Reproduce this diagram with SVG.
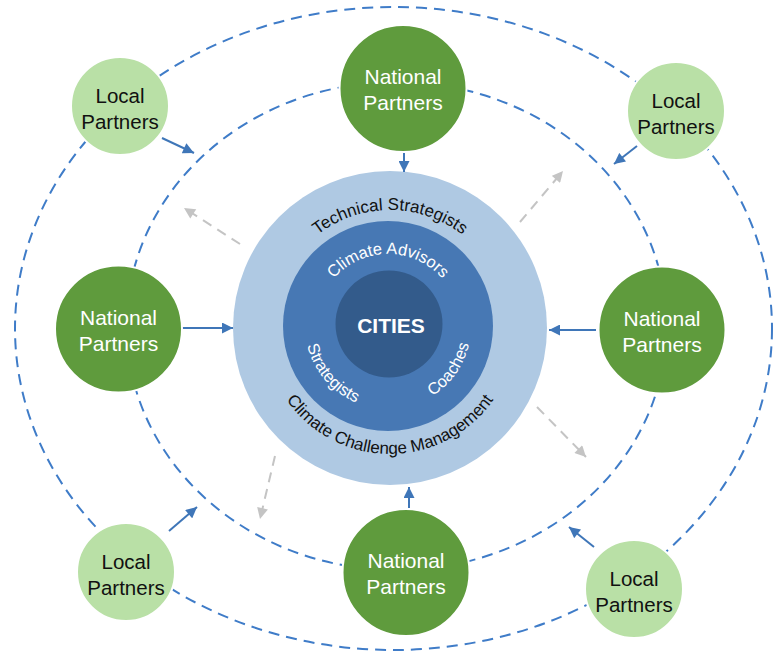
<svg xmlns="http://www.w3.org/2000/svg" width="775" height="657" viewBox="0 0 775 657">
<defs>
<style>
.orbit{fill:none;stroke:#3f7cc8;stroke-width:2;stroke-dasharray:11 7}
.solid{fill:none;stroke:#3f76b8;stroke-width:2}
.gray{fill:none;stroke:#c4c4c4;stroke-width:2;stroke-dasharray:10 7}
.nat{fill:#5f9b3d;stroke:#fff;stroke-width:2}
.loc{fill:#b9e0a6;stroke:#fff;stroke-width:2}
.nt{font-family:"Liberation Sans",Arial,sans-serif;font-size:21px;fill:#fff;text-anchor:middle}
.lt{font-family:"Liberation Sans",Arial,sans-serif;font-size:20.5px;fill:#111;text-anchor:middle}
.ring{font-family:"Liberation Sans",Arial,sans-serif;font-size:17px;fill:#111}
.wring{font-family:"Liberation Sans",Arial,sans-serif;font-size:16.5px;fill:#fff}
</style>
<marker id="ab" viewBox="0 0 10 10" refX="10" refY="5" markerWidth="12" markerHeight="11" markerUnits="userSpaceOnUse" orient="auto">
<path d="M0,0 L10,5 L0,10 z" fill="#3f76b8"/>
</marker>
<marker id="ag" viewBox="0 0 10 10" refX="10" refY="5" markerWidth="12" markerHeight="11" markerUnits="userSpaceOnUse" orient="auto">
<path d="M0,0 L10,5 L0,10 z" fill="#c4c4c4"/>
</marker>
<path id="pTop1" d="M272,328 A118,118 0 0 1 508,328"/>
<path id="pBot1" d="M264,328 A126,126 0 0 0 516,328"/>
<path id="pTop2" d="M316,326 A72,72 0 0 1 460,326"/>
<path id="pBot2" d="M305,326 A83,83 0 0 0 471,326"/>
</defs>

<g id="orbits">
<ellipse class="orbit" cx="393.5" cy="328.5" rx="378.5" ry="321.5"/>
<ellipse class="orbit" cx="396.5" cy="326" rx="270" ry="244"/>
</g>

<g id="core">
<circle cx="390" cy="328" r="157" fill="#afc9e3"/>
<circle cx="388" cy="326" r="105" fill="#4778b4"/>
<circle cx="389" cy="324" r="53.5" fill="#335b8b"/>
<text class="ring"><textPath href="#pTop1" startOffset="50%" text-anchor="middle">Technical Strategists</textPath></text>
<text class="ring"><textPath href="#pBot1" startOffset="50%" text-anchor="middle">Climate Challenge Management</textPath></text>
<text class="wring"><textPath href="#pTop2" startOffset="50%" text-anchor="middle">Climate Advisors</textPath></text>
<text class="wring"><textPath href="#pBot2" startOffset="22.5%" text-anchor="middle">Strategists</textPath></text>
<text class="wring"><textPath href="#pBot2" startOffset="80.5%" text-anchor="middle">Coaches</textPath></text>
<text x="391" y="333" font-family="'Liberation Sans',Arial,sans-serif" font-size="21" font-weight="bold" fill="#fff" text-anchor="middle">CITIES</text>
</g>

<g id="connectors">
<line class="solid" x1="404" y1="153" x2="404" y2="172" marker-end="url(#ab)"/>
<line class="solid" x1="182" y1="328" x2="233" y2="328" marker-end="url(#ab)"/>
<line class="solid" x1="596" y1="330" x2="549" y2="330" marker-end="url(#ab)"/>
<line class="solid" x1="409" y1="508" x2="409" y2="487" marker-end="url(#ab)"/>
<line class="solid" x1="162" y1="138" x2="194" y2="153" marker-end="url(#ab)"/>
<line class="solid" x1="637" y1="146" x2="614" y2="164" marker-end="url(#ab)"/>
<line class="solid" x1="169" y1="531" x2="197" y2="507" marker-end="url(#ab)"/>
<line class="solid" x1="594" y1="547" x2="569" y2="527" marker-end="url(#ab)"/>
<line class="gray" x1="240" y1="244" x2="184" y2="208" marker-end="url(#ag)"/>
<line class="gray" x1="520" y1="222" x2="563" y2="171" marker-end="url(#ag)"/>
<line class="gray" x1="537" y1="407" x2="586" y2="457" marker-end="url(#ag)"/>
<line class="gray" x1="275" y1="456" x2="260" y2="519" marker-end="url(#ag)"/>
</g>

<g id="nat-top">
<circle class="nat" cx="403" cy="88.5" r="63.5"/>
<text class="nt" x="403" y="84">National</text>
<text class="nt" x="403" y="110">Partners</text>
</g>
<g id="nat-left">
<circle class="nat" cx="118.5" cy="329" r="63.5"/>
<text class="nt" x="118.5" y="325">National</text>
<text class="nt" x="118.5" y="351">Partners</text>
</g>
<g id="nat-right">
<circle class="nat" cx="662" cy="330" r="63.5"/>
<text class="nt" x="662" y="326">National</text>
<text class="nt" x="662" y="352">Partners</text>
</g>
<g id="nat-bottom">
<circle class="nat" cx="406" cy="572.5" r="63.5"/>
<text class="nt" x="406" y="568">National</text>
<text class="nt" x="406" y="594">Partners</text>
</g>

<g id="loc-tl">
<circle class="loc" cx="120" cy="106" r="49"/>
<text class="lt" x="120" y="103">Local</text>
<text class="lt" x="120" y="129">Partners</text>
</g>
<g id="loc-tr">
<circle class="loc" cx="676" cy="111" r="49"/>
<text class="lt" x="676" y="108">Local</text>
<text class="lt" x="676" y="134">Partners</text>
</g>
<g id="loc-bl">
<circle class="loc" cx="126" cy="572" r="49"/>
<text class="lt" x="126" y="569">Local</text>
<text class="lt" x="126" y="595">Partners</text>
</g>
<g id="loc-br">
<circle class="loc" cx="634" cy="589" r="49"/>
<text class="lt" x="634" y="586">Local</text>
<text class="lt" x="634" y="612">Partners</text>
</g>
</svg>
